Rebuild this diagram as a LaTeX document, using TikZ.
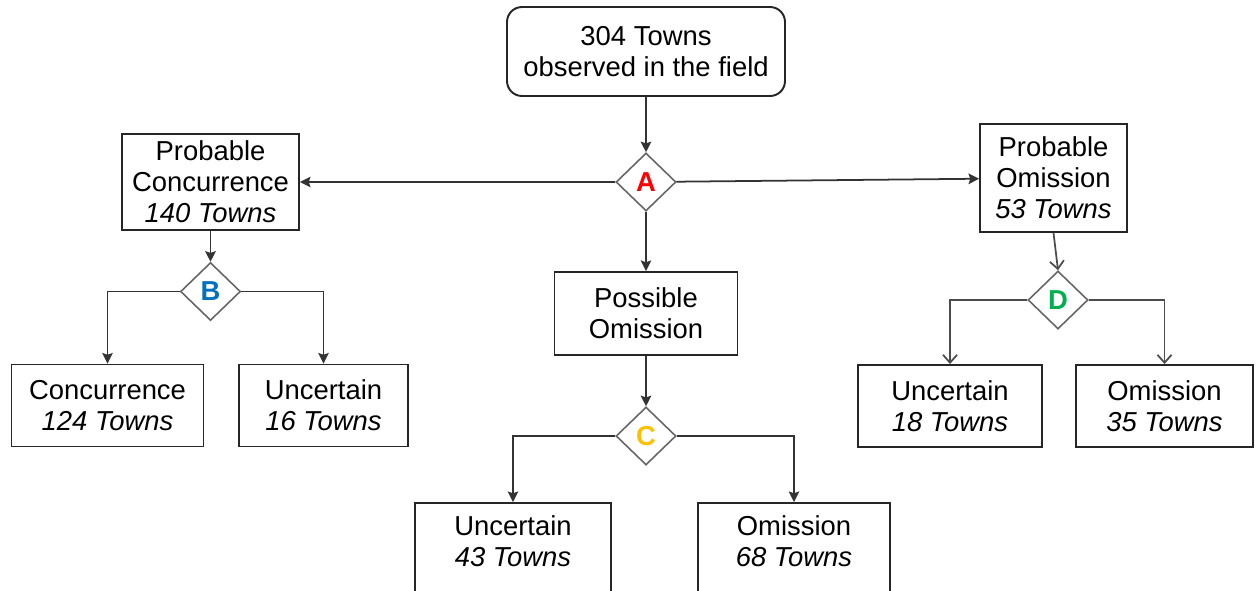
\documentclass[tikz,border=0pt]{standalone}
\usepackage{fontspec}
\setmainfont{Liberation Sans}
\usetikzlibrary{shapes.geometric, arrows.meta, positioning}
\definecolor{decA}{HTML}{FF0000}
\definecolor{decB}{HTML}{0070C0}
\definecolor{decC}{HTML}{FFC000}
\definecolor{decD}{HTML}{00B050}
\tikzstyle{box} = [rectangle, draw=black!85, line width=1.1pt, align=center, inner sep=2pt, font=\fontsize{15.6}{17.6}\selectfont]
\tikzstyle{startbox} = [box, rounded corners=0.3cm, minimum width=5.56cm, minimum height=1.78cm]
\tikzstyle{decision} = [diamond, draw=black!60, line width=0.9pt, minimum width=1.2cm, minimum height=1.16cm, inner sep=0pt, font=\fontsize{15.6}{17.6}\selectfont\bfseries]
\tikzstyle{arrow} = [line width=1pt,-{Stealth[length=6pt,width=6pt,inset=1pt]},draw=black!80]
\tikzstyle{openarrow} = [line width=1pt,-{Straight Barb[length=4.5pt,width=8pt]},draw=black!70]

\begin{document}
\begin{tikzpicture}[node distance=2.6cm,auto]
        \useasboundingbox (0,0) rectangle (25.12,-11.8);
        \node (top) [startbox] at (12.92,-1.03) {304 Towns\\observed in the field};
        \node (A) [decision, text=decA] [below of=top, node distance=2.61cm] {A};
        \node (pc) [box, minimum width=3.54cm, minimum height=1.92cm] [left of=A, node distance=8.71cm] {Probable\\Concurrence\\\textit{140 Towns}};
        \node (po) [box, minimum width=2.94cm, minimum height=2.16cm] [right of=A, node distance=8.15cm, yshift=0.08cm] {Probable\\Omission\\\textit{53 Towns}};
        \node (pos) [box, minimum width=3.66cm, minimum height=1.66cm] [below of=A, node distance=2.63cm] {Possible\\Omission};

        % branch B
        \node (B) [decision, text=decB] [below of=pc, node distance=2.19cm] {B};
        \node (conc) [box, minimum width=3.84cm, minimum height=1.64cm] [below of=B, node distance=2.28cm, xshift=-2.06cm] {Concurrence\\\textit{124 Towns}};
        \node (uncB) [box, minimum width=3.38cm, minimum height=1.64cm] [below of=B, node distance=2.28cm, xshift=2.26cm] {Uncertain\\\textit{16 Towns}};

        % branch C
        \node (C) [decision, text=decC] [below of=pos, node distance=2.45cm] {C};
        \node (uncC) [box, minimum width=3.92cm, minimum height=1.9cm, text depth=0.38cm] [below of=C, node distance=2.29cm, xshift=-2.66cm] {Uncertain\\\textit{43 Towns}};
        \node (omC) [box, minimum width=3.84cm, minimum height=1.9cm, text depth=0.38cm] [below of=C, node distance=2.29cm, xshift=2.96cm] {Omission\\\textit{68 Towns}};

        % branch D
        \node (D) [decision, text=decD] [below of=po, node distance=2.44cm, xshift=0.09cm] {D};
        \node (uncD) [box, minimum width=3.68cm, minimum height=1.64cm] [below of=D, node distance=2.12cm, xshift=-2.16cm] {Uncertain\\\textit{18 Towns}};
        \node (omD) [box, minimum width=3.54cm, minimum height=1.64cm] [below of=D, node distance=2.12cm, xshift=2.13cm] {Omission\\\textit{35 Towns}};

        \draw [arrow] (top) -- (A);
        \draw [arrow] (A) -- (pc);
        \draw [arrow] (A) -- (po);
        \draw [arrow] (A) -- (pos);

        \draw [arrow] (pc) -- (B);
        \draw [arrow] (B.west) -| (conc.north);
        \draw [arrow] (B.east) -| (uncB.north);

        \draw [arrow] (pos) -- (C);
        \draw [arrow] (C.west) -| (uncC.north);
        \draw [arrow] (C.east) -| (omC.north);

        \draw [openarrow] (po.south) -- (D.north);
        \draw [openarrow] (D.west) -| (uncD.north);
        \draw [openarrow] (D.east) -| (omD.north);
    \end{tikzpicture}
\end{document}
